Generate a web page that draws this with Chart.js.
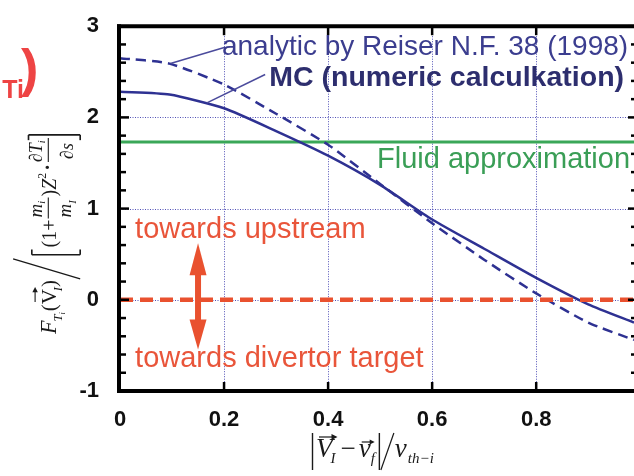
<!DOCTYPE html>
<html><head><meta charset="utf-8">
<script src="https://cdn.jsdelivr.net/npm/chart.js@4/dist/chart.umd.min.js"></script>
<style>html,body{margin:0;padding:0;background:#fff}canvas{display:block}</style>
</head><body>
<canvas id="c" width="634" height="476"></canvas>
<script>
// ---- data ----
const mcX = [0, 0.095, 0.2, 0.3, 0.4, 0.5, 0.6, 0.7, 0.8, 0.9, 0.988];
const mcValues = [2.28, 2.25, 2.10, 1.85, 1.58, 1.26, 0.88, 0.56, 0.24, -0.05, -0.25];
const analyticX = [0, 0.095, 0.2, 0.3, 0.4, 0.5, 0.6, 0.7, 0.8, 0.9, 0.988];
const analyticValues = [2.65, 2.59, 2.36, 2.04, 1.70, 1.27, 0.84, 0.44, 0.07, -0.25, -0.44];
const fluidValue = 1.73;
const zeroValue = 0;
const xTicks = [0, 0.2, 0.4, 0.6, 0.8];
const yTicks = [-1, 0, 1, 2, 3];
const yMinorStep = 0.2;
const xMin = 0, xMax = 0.988, yMin = -1, yMax = 3;

const BLUE = '#2e3192', RED = '#e9512f', GREEN = '#3aa758';
const SANS = '"Liberation Sans", Arial, sans-serif';
const SERIF = '"Liberation Serif", "Times New Roman", serif';

function line(ctx, x1, y1, x2, y2) { ctx.beginPath(); ctx.moveTo(x1, y1); ctx.lineTo(x2, y2); ctx.stroke(); }

function drawXTitle(ctx) {
  ctx.save();
  ctx.fillStyle = '#1a1a1a'; ctx.strokeStyle = '#1a1a1a';
  ctx.textBaseline = 'alphabetic'; ctx.textAlign = 'left';
  const base = 457; let x = 312;
  ctx.lineWidth = 1.4; line(ctx, x + 0.5, 433, x + 0.5, 470); x += 4;
  ctx.font = 'italic 27px ' + SERIF; ctx.fillText('V', x, base);
  const wV = ctx.measureText('V').width;
  ctx.lineWidth = 1.2; line(ctx, x + 3, 437, x + wV + 3, 437);
  ctx.beginPath(); ctx.moveTo(x + wV + 5, 437); ctx.lineTo(x + wV - 1, 434); ctx.lineTo(x + wV - 1, 440); ctx.closePath(); ctx.fill();
  x += wV - 2;
  ctx.font = 'italic 15px ' + SERIF; ctx.fillText('I', x, base + 6); x += ctx.measureText('I').width + 5;
  ctx.font = '27px ' + SERIF; ctx.fillText('\u2212', x, base); x += ctx.measureText('\u2212').width + 3;
  ctx.font = 'italic 27px ' + SERIF; ctx.fillText('v', x, base);
  const wv = ctx.measureText('v').width;
  line(ctx, x + 3, 442, x + wv + 2, 442);
  ctx.beginPath(); ctx.moveTo(x + wv + 4, 442); ctx.lineTo(x + wv - 1, 439.5); ctx.lineTo(x + wv - 1, 444.5); ctx.closePath(); ctx.fill();
  x += wv;
  ctx.font = 'italic 15px ' + SERIF; ctx.fillText('f', x, base + 6); x += ctx.measureText('f').width + 4;
  ctx.lineWidth = 1.4; line(ctx, x + 0.5, 433, x + 0.5, 470); x += 2;
  ctx.lineWidth = 1.2; line(ctx, x, 470, x + 13, 433); x += 14;
  ctx.font = 'italic 27px ' + SERIF; ctx.fillText('v', x, base); x += ctx.measureText('v').width + 1;
  ctx.font = 'italic 15px ' + SERIF; ctx.fillText('th\u2212i', x, base + 6);
  ctx.restore();
}

function drawYTitle(ctx) {
  ctx.save();
  ctx.translate(56, 334);
  ctx.rotate(-Math.PI / 2);
  ctx.scale(1.05, 1.1);
  ctx.fillStyle = '#1a1a1a'; ctx.strokeStyle = '#1a1a1a';
  ctx.textBaseline = 'alphabetic'; ctx.textAlign = 'left';
  let u = 0;
  const put = (t, font, dv = 0, extra = 0) => { ctx.font = font; ctx.fillText(t, u, dv); const w = ctx.measureText(t).width; u += w + extra; return w; };
  put('F', 'italic 21px ' + SERIF, 0, -1);
  put('T', 'italic 12px ' + SERIF, 5);
  put('i', 'italic 8px ' + SERIF, 8, 1);
  put('(', '20px ' + SERIF);
  const vStart = u;
  const wV = put('V', '20px ' + SERIF, 0, -2);
  ctx.lineWidth = 1; line(ctx, vStart + 2, -19, vStart + wV, -19);
  ctx.beginPath(); ctx.moveTo(vStart + wV + 2, -19); ctx.lineTo(vStart + wV - 3, -21.5); ctx.lineTo(vStart + wV - 3, -16.5); ctx.closePath(); ctx.fill();
  put('I', 'italic 12px ' + SERIF, 5);
  put(')', '20px ' + SERIF);
  ctx.lineWidth = 1.2; line(ctx, u + 1, 22, u + 20, -39); u += 24;
  // left bracket
  ctx.lineWidth = 1.5;
  line(ctx, u, -22, u, 22); line(ctx, u, -22, u + 5, -22); line(ctx, u, 22, u + 5, 22); u += 7;
  put('(1', '19px ' + SERIF); put('+', '19px ' + SERIF, 0, 1);
  // fraction m_i / m_I
  let f0 = u; ctx.font = 'italic 18px ' + SERIF; const wm = ctx.measureText('m').width;
  ctx.fillText('m', f0 + 1, -13); ctx.font = 'italic 10px ' + SERIF; ctx.fillText('i', f0 + wm + 1, -10);
  ctx.font = 'italic 18px ' + SERIF; ctx.fillText('m', f0 + 1, 14); ctx.font = 'italic 10px ' + SERIF; ctx.fillText('I', f0 + wm + 1, 18);
  ctx.lineWidth = 1; line(ctx, f0, -7, f0 + wm + 7, -7); u += wm + 8;
  put(')', '19px ' + SERIF);
  put('Z', 'italic 19px ' + SERIF);
  put('2', '11px ' + SERIF, -9, 2);
  put('\u00b7', 'bold 19px ' + SERIF, -2, 2);
  // fraction dT_i / ds
  f0 = u; ctx.font = 'italic 17px ' + SERIF; const wdT = ctx.measureText('\u2202T').width;
  ctx.fillText('\u2202T', f0, -13); ctx.font = 'italic 10px ' + SERIF; ctx.fillText('i', f0 + wdT, -10);
  ctx.font = 'italic 17px ' + SERIF; ctx.fillText('\u2202s', f0 + 3, 15);
  ctx.lineWidth = 1; line(ctx, f0, -7, f0 + wdT + 5, -7); u += wdT + 8;
  // right bracket
  ctx.lineWidth = 1.5;
  line(ctx, u, -25, u, 22); line(ctx, u, -25, u - 5, -25); line(ctx, u, 22, u - 5, 22);
  ctx.restore();
}

const annot = {
  id: 'annot',
  beforeDatasetsDraw(chart) {
    const { ctx, chartArea: a, scales: { x, y } } = chart;
    ctx.save();
    ctx.strokeStyle = 'rgba(50,50,170,0.85)';
    ctx.lineWidth = 1;
    ctx.setLineDash([1, 1.5]);
    xTicks.forEach(v => {
      if (v <= x.min || v >= x.max) return;
      const px = Math.round(x.getPixelForValue(v)) + 0.5;
      line(ctx, px, a.top, px, a.bottom);
    });
    yTicks.forEach(v => {
      if (v <= y.min || v >= y.max) return;
      const py = Math.round(y.getPixelForValue(v)) + 0.5;
      line(ctx, a.left, py, a.right, py);
    });
    ctx.restore();
  },
  afterDatasetsDraw(chart) {
    const { ctx, chartArea: a, scales: { x, y } } = chart;
    const X = v => x.getPixelForValue(v), Y = v => y.getPixelForValue(v);
    ctx.save();
    // axes frame
    ctx.strokeStyle = '#000'; ctx.lineWidth = 4; ctx.lineCap = 'butt';
    line(ctx, a.left - 1, a.top - 2, a.left - 1, a.bottom + 2);
    line(ctx, a.left - 3, a.top, a.right, a.top);
    line(ctx, a.left - 3, a.bottom, a.right, a.bottom);
    // tick marks
    ctx.lineWidth = 2.5;
    for (let v = yMin; v <= yMax + 1e-9; v += yMinorStep) {
      const vv = Math.round(v * 10) / 10;
      const major = Math.abs(vv - Math.round(vv)) < 1e-6;
      const py = Y(vv);
      line(ctx, a.left, py, a.left + (major ? 9 : 6), py);
      line(ctx, a.right, py, a.right - (major ? 6 : 3), py);
    }
    xTicks.forEach(v => {
      if (v <= x.min) return;
      const px = X(v);
      line(ctx, px, a.top, px, a.top + 9);
      line(ctx, px, a.bottom, px, a.bottom - 9);
    });
    // leader lines
    ctx.strokeStyle = '#4b4b9c'; ctx.lineWidth = 1.5;
    line(ctx, X(0.097), Y(2.59), X(0.202), Y(2.77));
    line(ctx, X(0.167), Y(2.16), X(0.279), Y(2.47));
    // texts
    ctx.textBaseline = 'alphabetic'; ctx.textAlign = 'left';
    ctx.fillStyle = '#3b3d8f'; ctx.font = '28px ' + SANS;
    ctx.fillText('analytic by Reiser N.F. 38 (1998)', X(0.196), Y(2.68));
    ctx.fillStyle = '#2d2e6e'; ctx.font = 'bold 28.5px ' + SANS;
    ctx.fillText('MC (numeric calculkation)', X(0.287), Y(2.345));
    ctx.fillStyle = '#3a9e56'; ctx.font = '29px ' + SANS;
    ctx.fillText('Fluid approximation', X(0.494), Y(1.45));
    ctx.fillStyle = '#e9553a'; ctx.font = '29px ' + SANS;
    ctx.fillText('towards upstream', X(0.029), Y(0.674));
    ctx.fillText('towards divertor target', X(0.029), Y(-0.74));
    // double arrow
    ctx.fillStyle = RED;
    const ax = X(0.15), yt = Y(0.62), yb = Y(-0.545);
    ctx.fillRect(ax - 3, yt + 20, 6, (yb - yt) - 40);
    ctx.beginPath(); ctx.moveTo(ax, yt); ctx.lineTo(ax + 8.5, yt + 32); ctx.lineTo(ax - 8.5, yt + 32); ctx.closePath(); ctx.fill();
    ctx.beginPath(); ctx.moveTo(ax, yb); ctx.lineTo(ax + 8.5, yb - 30); ctx.lineTo(ax - 8.5, yb - 30); ctx.closePath(); ctx.fill();
    // red fragment at top-left
    ctx.fillStyle = '#ee4444';
    ctx.font = 'bold 25px ' + SANS; ctx.textAlign = 'right';
    ctx.fillText('Ti', 24, 98);
    ctx.textAlign = 'left'; ctx.font = 'bold 52px ' + SANS;
    ctx.fillText(')', 21, 86);
    ctx.restore();
    drawXTitle(ctx);
    drawYTitle(ctx);
  }
};

const pts = (xs, ys) => xs.map((v, i) => ({ x: v, y: ys[i] }));

new Chart(document.getElementById('c'), {
  type: 'line',
  data: {
    datasets: [
      { label: 'zero', data: [{ x: xMin, y: zeroValue }, { x: xMax, y: zeroValue }], borderColor: RED, borderWidth: 4.5, borderDash: [13, 7], pointRadius: 0, order: 0 },
      { label: 'MC (numeric calculkation)', data: pts(mcX, mcValues), borderColor: BLUE, borderWidth: 2.5, tension: 0.2, pointRadius: 0, order: 1 },
      { label: 'analytic by Reiser N.F. 38 (1998)', data: pts(analyticX, analyticValues), borderColor: BLUE, borderWidth: 2.5, borderDash: [10, 6], tension: 0.2, pointRadius: 0, order: 2 },
      { label: 'Fluid approximation', data: [{ x: xMin, y: fluidValue }, { x: xMax, y: fluidValue }], borderColor: GREEN, borderWidth: 3, pointRadius: 0, order: 3 }
    ]
  },
  options: {
    responsive: false, animation: false, devicePixelRatio: 1,
    layout: { padding: { top: 20, right: 0, left: 0, bottom: 0 } },
    plugins: { legend: { display: false }, tooltip: { enabled: false } },
    scales: {
      x: {
        type: 'linear', min: xMin, max: xMax,
        grid: { display: false }, border: { display: false },
        afterBuildTicks: s => { s.ticks = xTicks.map(v => ({ value: v })); },
        afterFit: s => { s.height = 85; },
        ticks: { font: { family: SANS, size: 22, weight: 'bold' }, color: '#111', padding: 8, maxRotation: 0, autoSkip: false, callback: v => String(v) }
      },
      y: {
        type: 'linear', min: yMin, max: yMax,
        grid: { display: false }, border: { display: false },
        afterBuildTicks: s => { s.ticks = yTicks.map(v => ({ value: v })); },
        afterFit: s => { s.width = 120; },
        ticks: { font: { family: SANS, size: 22, weight: 'bold' }, color: '#111', padding: 13, autoSkip: false, callback: v => String(v) }
      }
    }
  },
  plugins: [annot]
});
</script>
</body></html>
